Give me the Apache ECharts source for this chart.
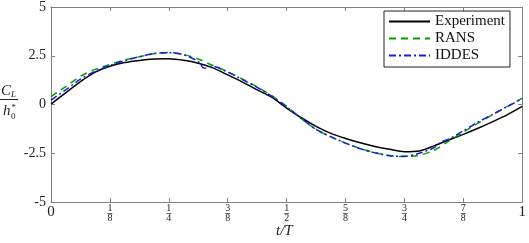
<!DOCTYPE html>
<html><head><meta charset="utf-8">
<script src="https://cdn.jsdelivr.net/npm/echarts@6/dist/echarts.min.js"></script>
<style>html,body{margin:0;padding:0;background:#fff}#c{width:529px;height:243px}</style>
</head><body><div id="c"></div>
<script>
const tGrid = [0, 0.03125, 0.0625, 0.09375, 0.125, 0.15625, 0.1875, 0.21875, 0.25, 0.28125, 0.3125, 0.34375, 0.375, 0.40625, 0.4375, 0.46875, 0.5, 0.53125, 0.5625, 0.59375, 0.625, 0.65625, 0.6875, 0.71875, 0.75, 0.78125, 0.8125, 0.84375, 0.875, 0.90625, 0.9375, 0.96875, 1];
const expValues = [0.02, 0.6, 1.17, 1.66, 1.96, 2.15, 2.26, 2.33, 2.35, 2.27, 2.12, 1.88, 1.52, 1.15, 0.75, 0.36, -0.18, -0.68, -1.12, -1.48, -1.74, -1.96, -2.15, -2.3, -2.42, -2.38, -2.12, -1.82, -1.53, -1.22, -0.88, -0.52, -0.1];
const ransValues = [0.4, 0.92, 1.45, 1.8, 2.05, 2.28, 2.45, 2.6, 2.67, 2.57, 2.33, 2.0, 1.68, 1.3, 0.9, 0.45, -0.1, -0.72, -1.28, -1.66, -1.98, -2.26, -2.47, -2.62, -2.67, -2.6, -2.35, -1.88, -1.42, -0.95, -0.52, -0.1, 0.33];
const tIddes = [0, 0.03125, 0.0625, 0.09375, 0.125, 0.15625, 0.1875, 0.21875, 0.25, 0.28125, 0.3125, 0.325, 0.34375, 0.375, 0.40625, 0.4375, 0.46875, 0.5, 0.53125, 0.5625, 0.59375, 0.625, 0.65625, 0.6875, 0.71875, 0.75, 0.78125, 0.8125, 0.828, 0.84375, 0.875, 0.90625, 0.9375, 0.96875, 1];
const iddesValues = [0.22, 0.75, 1.3, 1.7, 2.0, 2.25, 2.45, 2.62, 2.66, 2.55, 2.2, 1.86, 1.95, 1.66, 1.28, 0.88, 0.42, -0.12, -0.72, -1.28, -1.65, -1.98, -2.27, -2.48, -2.63, -2.66, -2.5, -2.22, -1.92, -1.78, -1.35, -0.9, -0.5, -0.1, 0.3];
const xTickNum = ['0', '1', '1', '3', '1', '5', '3', '7', '1'];
const xTickDen = ['', '8', '4', '8', '2', '8', '4', '8', ''];
const yTicks = ['-5', '-2.5', '0', '2.5', '5'];
const seriesNames = ['Experiment', 'RANS', 'IDDES'];

const serif = '"Liberation Serif", "DejaVu Serif", serif';
const axisGrey = '#808080';
const zip = (a, b) => a.map((v, i) => [v, b[i]]);

const chart = echarts.init(document.getElementById('c'), null, {renderer: 'canvas'});
const tickCommon = {inside: true, length: 4, lineStyle: {color: axisGrey, width: 1}};
const lineCommon = {show: true, onZero: false, lineStyle: {color: axisGrey, width: 1}};
chart.setOption({
  animation: false,
  grid: {left: 51, right: 4, top: 6, bottom: 41, containLabel: false},
  legend: {
    data: seriesNames,
    orient: 'vertical',
    left: 384, top: 11,
    padding: [3, 5, 4, 4],
    itemWidth: 41, itemHeight: 14, itemGap: 2, itemTextGap: 4,
    itemStyle: {opacity: 0},
    borderColor: '#222', borderWidth: 1, backgroundColor: '#fff',
    textStyle: {fontFamily: serif, fontSize: 15, color: '#111'}
  },
  xAxis: [{
    type: 'value', min: 0, max: 1, interval: 0.125, position: 'bottom',
    axisLine: lineCommon, axisTick: tickCommon, splitLine: {show: false},
    axisLabel: {
      margin: 3, color: '#222', fontFamily: serif,
      formatter: function (v) {
        const i = Math.round(v * 8);
        if (!xTickDen[i]) return '{big|' + xTickNum[i] + '}';
        return '{n|' + xTickNum[i] + '}\n{bar|─}\n{n|' + xTickDen[i] + '}';
      },
      rich: {
        big: {fontSize: 15, fontFamily: serif, lineHeight: 15, color: '#222'},
        n: {fontSize: 10, fontFamily: serif, lineHeight: 7, color: '#222'},
        bar: {fontSize: 8, fontFamily: 'DejaVu Sans', lineHeight: 3, color: '#222'}
      }
    }
  }, {
    type: 'value', min: 0, max: 1, interval: 0.125, position: 'top',
    axisLine: lineCommon, axisTick: tickCommon, axisLabel: {show: false}, splitLine: {show: false}
  }],
  yAxis: [{
    type: 'value', min: -5, max: 5, interval: 2.5, position: 'left',
    axisLine: lineCommon, axisTick: tickCommon, splitLine: {show: false},
    axisLabel: {
      margin: 5, fontSize: 14, fontFamily: serif, color: '#222',
      formatter: function (v) { return yTicks[Math.round((v + 5) / 2.5)]; }
    }
  }, {
    type: 'value', min: -5, max: 5, interval: 2.5, position: 'right',
    axisLine: lineCommon, axisTick: tickCommon, axisLabel: {show: false}, splitLine: {show: false}
  }],
  series: [{
    name: seriesNames[0], type: 'line', data: zip(tGrid, expValues),
    symbol: 'none', smooth: 0.3, color: '#000',
    lineStyle: {color: '#000', width: 1.5, type: 'solid'}
  }, {
    name: seriesNames[1], type: 'line', data: zip(tGrid, ransValues),
    symbol: 'none', smooth: 0.3, color: '#00a000',
    lineStyle: {color: '#00a000', width: 1.5, type: [7, 5]}
  }, {
    name: seriesNames[2], type: 'line', data: zip(tIddes, iddesValues),
    symbol: 'none', smooth: 0.3, color: '#1a1ae0',
    lineStyle: {color: '#1a1ae0', width: 1.5, type: [7, 3, 2, 3]}
  }],
  graphic: [
    {type: 'text', left: 1, top: 84, style: {text: 'C', font: 'italic 15px ' + serif, fill: '#222'}},
    {type: 'text', left: 11, top: 90, style: {text: 'L', font: 'italic 9px ' + serif, fill: '#222'}},
    {type: 'line', shape: {x1: 0, y1: 99.5, x2: 18, y2: 99.5}, style: {stroke: '#222', lineWidth: 1}},
    {type: 'text', left: 3, top: 104, style: {text: 'h', font: 'italic 15px ' + serif, fill: '#222'}},
    {type: 'text', left: 11, top: 103, style: {text: '*', font: 'italic 9px ' + serif, fill: '#222'}},
    {type: 'text', left: 11, top: 112, style: {text: '0', font: '9px ' + serif, fill: '#222'}},
    {type: 'text', left: 276, top: 224, style: {text: 't/T', font: 'italic 15px ' + serif, fill: '#222'}}
  ]
});
</script>
</body></html>
